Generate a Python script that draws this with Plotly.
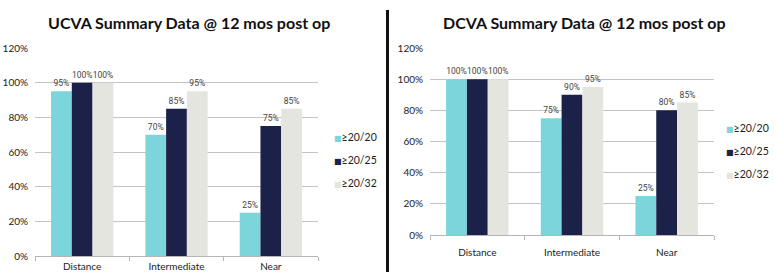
import plotly.graph_objects as go

categories = ["Distance", "Intermediate", "Near"]
series_names = ["≥20/20", "≥20/25", "≥20/32"]
ucva_2020 = [95, 70, 25]
ucva_2025 = [100, 85, 75]
ucva_2032 = [100, 95, 85]
dcva_2020 = [100, 75, 25]
dcva_2025 = [100, 90, 80]
dcva_2032 = [100, 95, 85]
y_ticks = [0, 20, 40, 60, 80, 100, 120]
y_tick_labels = [f"{v}%" for v in y_ticks]

colors = ["#7dd5dc", "#1b2148", "#e4e5df"]
W, H = 775, 272
FONT = "Lato"
LABEL_FONT = "Roboto"

fig = go.Figure()

left = [ucva_2020, ucva_2025, ucva_2032]
right = [dcva_2020, dcva_2025, dcva_2032]


def add_panel(data, xa, ya, leg, prefix):
    for i, (name, vals) in enumerate(zip(series_names, data)):
        fig.add_trace(go.Bar(
            x=categories, y=vals, name=name, marker_color=colors[i],
            marker_line_width=0, text=[f"{v}%" for v in vals],
            textposition="outside", cliponaxis=False, constraintext="none",
            textangle=0,
            textfont=dict(size=8.5, color="#444", family=LABEL_FONT),
            xaxis=xa, yaxis=ya, showlegend=False, offsetgroup=str(i)))
    # legend entries: coloured square glyph + label
    for i, name in enumerate(series_names):
        fig.add_trace(go.Scatter(
            x=[None], y=[None], mode="markers", xaxis=xa, yaxis=ya,
            marker=dict(color="rgba(0,0,0,0)", size=1),
            name=f'<span style="color:{colors[i]};font-family:DejaVu Sans;font-size:8px">■</span>{name}',
            legend=leg, legendgroup=f"{prefix}{i}", showlegend=True,
            hoverinfo="skip"))


add_panel(left, "x", "y", "legend", "l")
add_panel(right, "x2", "y2", "legend2", "r")


def py(pix):
    return (H - pix) / H


xcommon = dict(showgrid=False, showline=True, linecolor="#b5b5b5", linewidth=1,
               ticks="outside", tickson="boundaries", ticklen=4, tickcolor="#b5b5b5",
               automargin=False,
               tickfont=dict(size=10, color="#222", family=FONT))
ycommon = dict(range=[0, 120], tickvals=y_ticks, ticktext=y_tick_labels,
               showgrid=True, gridcolor="#c4c4c4", gridwidth=1, zeroline=False,
               showline=False, ticks="", ticklabelstandoff=6, automargin=False,
               tickfont=dict(size=10, color="#222", family=FONT))

legend_common = dict(font=dict(size=10.5, color="#222", family=FONT),
                     bgcolor="rgba(0,0,0,0)", traceorder="grouped",
                     itemwidth=30, xanchor="left", yanchor="top")

fig.update_layout(
    width=W, height=H, margin=dict(l=0, r=0, t=0, b=0, autoexpand=False),
    paper_bgcolor="white", plot_bgcolor="white",
    barmode="group", bargap=0.34, bargroupgap=0,
    xaxis=dict(domain=[35 / W, 318 / W], anchor="y", ticklabelstandoff=1, **xcommon),
    yaxis=dict(domain=[py(256), py(48)], anchor="x", **ycommon),
    xaxis2=dict(domain=[430 / W, 714 / W], anchor="y2", ticklabelstandoff=8, **xcommon),
    yaxis2=dict(domain=[py(235), py(48)], anchor="x2", **ycommon),
    legend=dict(x=294 / W, y=py(122), tracegroupgap=4, **legend_common),
    legend2=dict(x=686 / W, y=py(113), tracegroupgap=4, **legend_common),
    showlegend=True,
    annotations=[
        dict(text="<b>UCVA Summary Data @ 12 mos post op</b>", x=189 / W, y=py(22),
             xref="paper", yref="paper", showarrow=False, xanchor="center", yanchor="middle",
             font=dict(size=16, color="#111", family=FONT)),
        dict(text="<b>DCVA Summary Data @ 12 mos post op</b>", x=584 / W, y=py(22),
             xref="paper", yref="paper", showarrow=False, xanchor="center", yanchor="middle",
             font=dict(size=16, color="#111", family=FONT)),
    ],
    shapes=[dict(type="line", xref="paper", yref="paper", x0=387.5 / W, x1=387.5 / W,
                 y0=0, y1=py(10), line=dict(color="#111", width=3))],
)

fig.write_html("out.html")
